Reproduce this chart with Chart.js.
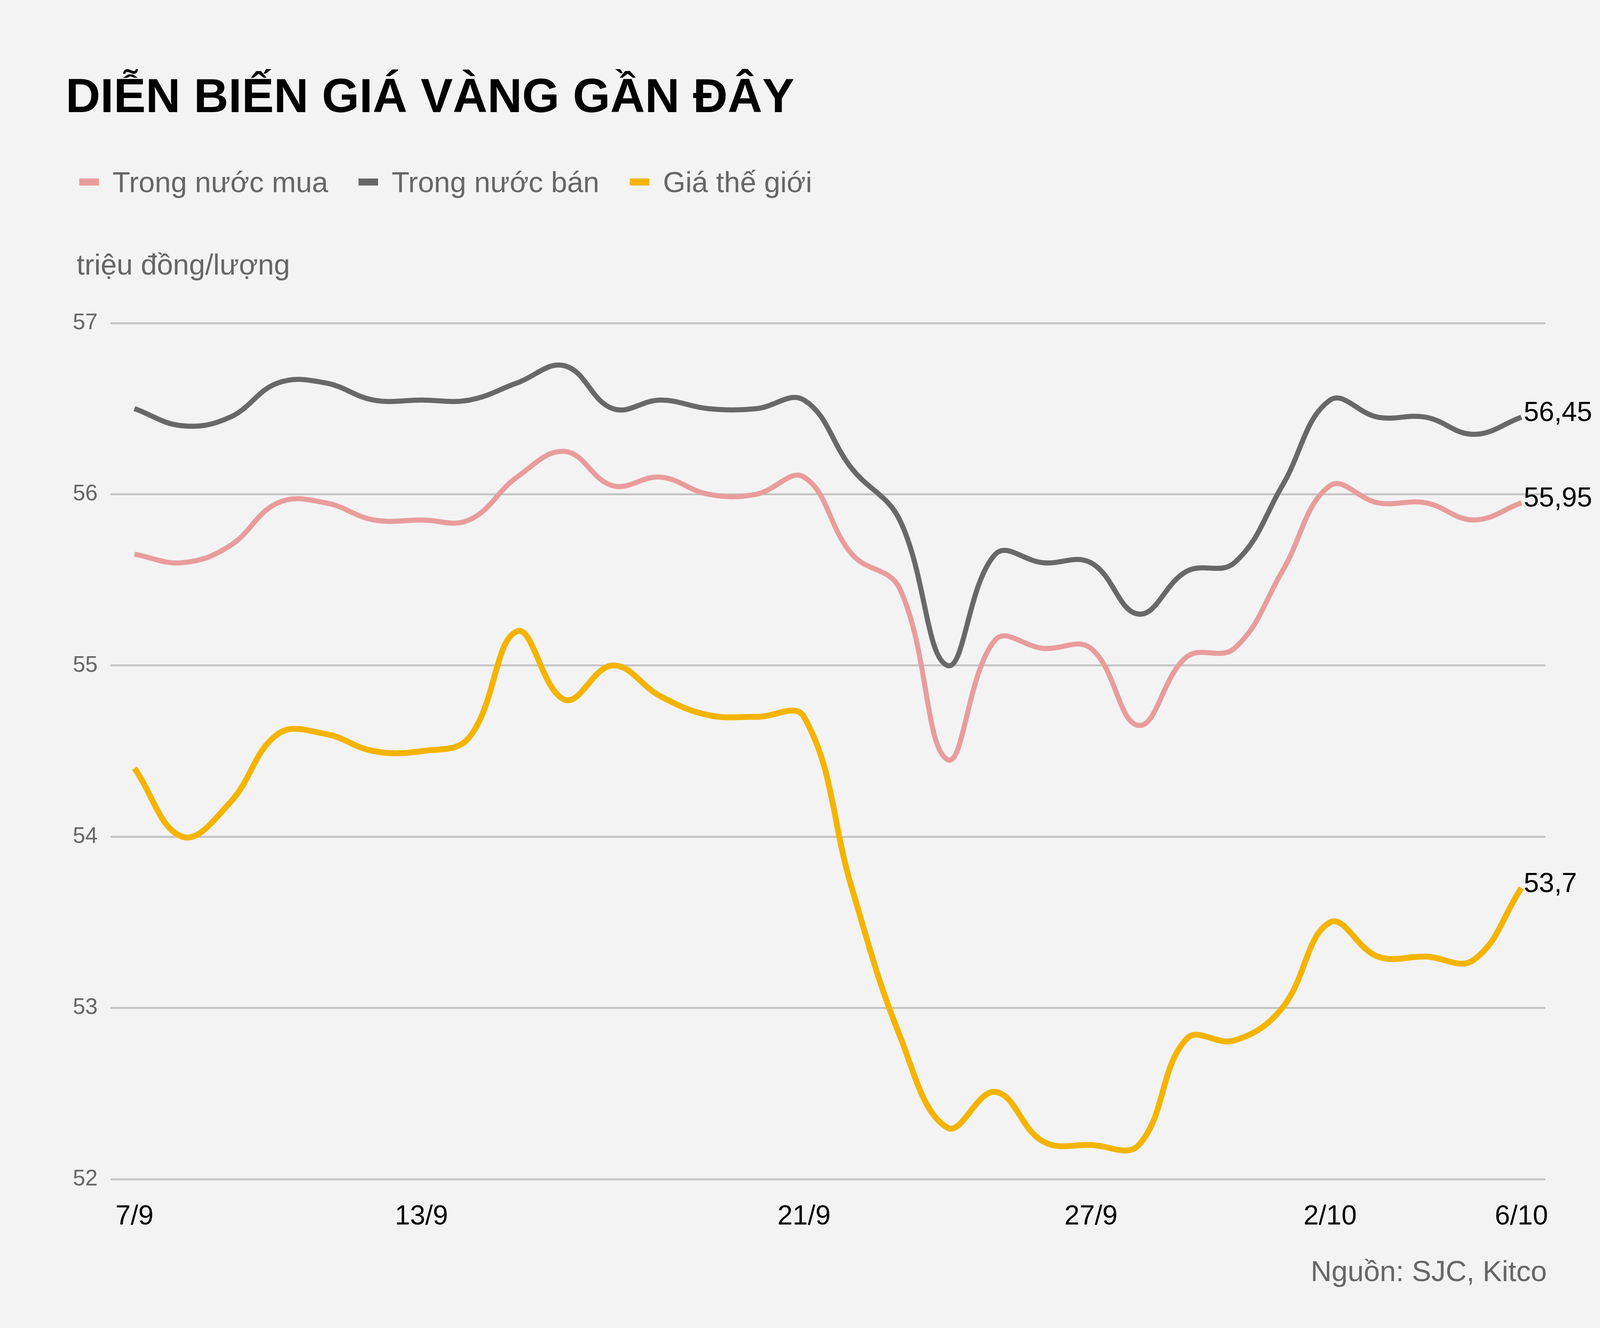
<!DOCTYPE html>
<html>
<head>
<meta charset="utf-8">
<script src="https://cdn.jsdelivr.net/npm/chart.js@4.4.1/dist/chart.umd.min.js"></script>
<style>
  html, body { margin: 0; padding: 0; background: #f3f3f3; }
  canvas { display: block; }
</style>
</head>
<body>
<canvas id="goldChart" width="4171" height="3400"></canvas>
<script>
// dữ liệu
const dates = ['7/9', '8/9', '9/9', '10/9', '11/9', '12/9', '13/9', '14/9', '15/9', '16/9',
  '17/9', '18/9', '19/9', '20/9', '21/9', '22/9', '23/9', '24/9', '25/9', '26/9',
  '27/9', '28/9', '29/9', '30/9', '1/10', '2/10', '3/10', '4/10', '5/10', '6/10'];
const shownDates = ['7/9', '13/9', '21/9', '27/9', '2/10', '6/10'];

const buyDomestic = [55.65, 55.60, 55.70, 55.95, 55.95, 55.85, 55.85, 55.85, 56.10, 56.25,
  56.05, 56.10, 56.00, 56.00, 56.10, 55.65, 55.45, 54.45, 55.15, 55.10,
  55.10, 54.65, 55.05, 55.10, 55.55, 56.05, 55.95, 55.95, 55.85, 55.95];
const sellDomestic = [56.50, 56.40, 56.45, 56.65, 56.65, 56.55, 56.55, 56.55, 56.65, 56.75,
  56.50, 56.55, 56.50, 56.50, 56.55, 56.15, 55.85, 55.00, 55.65, 55.60,
  55.60, 55.30, 55.55, 55.60, 56.05, 56.55, 56.45, 56.45, 56.35, 56.45];
const worldPrice = [54.40, 54.00, 54.20, 54.60, 54.60, 54.50, 54.50, 54.58, 55.20, 54.80,
  55.00, 54.82, 54.71, 54.70, 54.70, 53.70, 52.84, 52.30, 52.51, 52.22,
  52.20, 52.20, 52.82, 52.81, 53.00, 53.50, 53.30, 53.30, 53.28, 53.70];

const seriesNames = ['Trong nước mua', 'Trong nước bán', 'Giá thế giới'];
const seriesColors = ['#e99c9c', '#686868', '#f4b400'];
const yTicks = [52, 53, 54, 55, 56, 57];

const titleText = 'DIỄN BIẾN GIÁ VÀNG GẦN ĐÂY';
const unitText = 'triệu đồng/lượng';
const sourceText = 'Nguồn: SJC, Kitco';

const FONT = '"Liberation Sans", Arial, sans-serif';

// tiêu đề, chú giải, đơn vị, nguồn và nhãn cuối đường
const textPlugin = {
  id: 'texts',
  afterDraw(chart) {
    const c = chart.ctx;
    c.save();
    c.textBaseline = 'alphabetic';
    c.textAlign = 'left';

    c.fillStyle = '#000';
    c.font = 'bold 123px ' + FONT;
    c.fillText(titleText, 168, 287);

    c.font = '74px ' + FONT;
    let x = 203;
    chart.data.datasets.forEach(ds => {
      c.fillStyle = ds.borderColor;
      c.fillRect(x, 457, 50, 18);
      x += 50 + 35;
      c.fillStyle = '#666';
      c.fillText(ds.label, x, 492);
      x += c.measureText(ds.label).width + 78;
    });

    c.fillStyle = '#666';
    c.fillText(unitText, 196, 703);

    c.textAlign = 'right';
    c.fillText(sourceText, 3960, 3280);

    c.textAlign = 'left';
    c.fillStyle = '#000';
    c.font = '70px ' + FONT;
    chart.data.datasets.forEach((ds, i) => {
      const meta = chart.getDatasetMeta(i);
      const pt = meta.data[meta.data.length - 1];
      const v = ds.data[ds.data.length - 1];
      c.fillText(String(v).replace('.', ','), pt.x + 6, pt.y + 10);
    });
    c.restore();
  }
};

const ctx = document.getElementById('goldChart').getContext('2d');

const goldChart = new Chart(ctx, {
  type: 'line',
  data: {
    labels: dates,
    datasets: [buyDomestic, sellDomestic, worldPrice].map((d, i) => ({
      label: seriesNames[i],
      data: d,
      borderColor: seriesColors[i],
      backgroundColor: seriesColors[i],
      borderWidth: i === 2 ? 15 : 13,
      pointRadius: 0,
      tension: 0.4,
      fill: false
    }))
  },
  options: {
    responsive: false,
    animation: false,
    devicePixelRatio: 1,
    layout: {
      padding: { top: 827, right: 215, bottom: 231, left: 0 }
    },
    plugins: {
      legend: { display: false },
      title: { display: false },
      tooltip: { enabled: false }
    },
    scales: {
      x: {
        offset: true,
        grid: { display: false, drawTicks: false },
        border: { display: false },
        ticks: {
          autoSkip: false,
          maxRotation: 0,
          color: '#000',
          font: { family: FONT, size: 70 },
          padding: 55,
          callback: function (value) {
            const l = this.getLabelForValue(value);
            return shownDates.includes(l) ? l : '';
          }
        },
        afterFit: scale => { scale.height = 150; }
      },
      y: {
        min: yTicks[0],
        max: yTicks[yTicks.length - 1],
        afterBuildTicks: scale => { scale.ticks = yTicks.map(v => ({ value: v })); },
        grid: { color: '#c4c4c4', lineWidth: 5, drawTicks: false },
        border: { display: false },
        ticks: {
          color: '#666',
          font: { family: FONT, size: 57 },
          padding: 33
        },
        afterFit: scale => { scale.width = 283; }
      }
    }
  },
  plugins: [textPlugin]
});
</script>
</body>
</html>
